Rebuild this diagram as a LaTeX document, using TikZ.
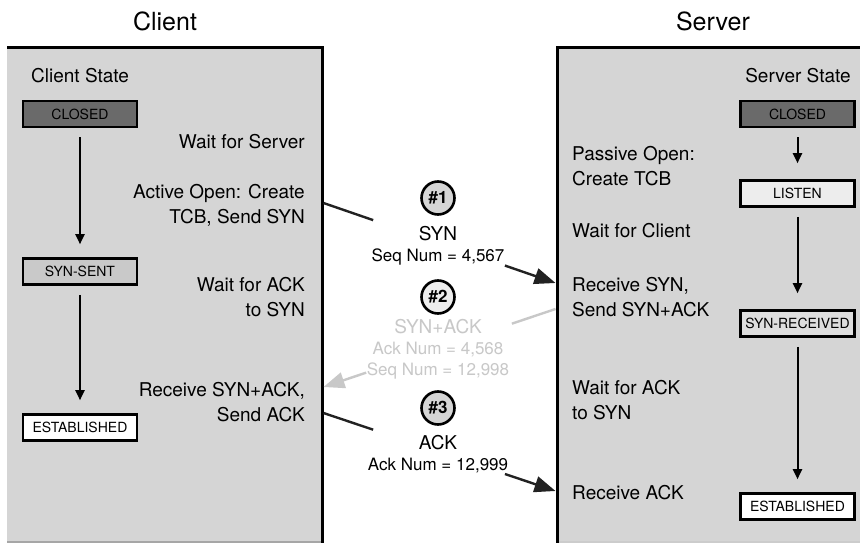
\documentclass[tikz,border=0pt]{standalone}
\usepackage{fontspec}
\setmainfont{TeX Gyre Heros}
\usetikzlibrary{arrows.meta,calc}
\definecolor{panel}{HTML}{D5D5D5}
\definecolor{darkfill}{HTML}{6A6A6A}
\definecolor{midfill}{HTML}{C9C9C9}
\definecolor{lightfill}{HTML}{EDEDED}
\definecolor{recfill}{HTML}{DEDEDE}
\definecolor{faint}{HTML}{C8C8C8}
\definecolor{ink}{HTML}{222222}
\begin{document}
\begin{tikzpicture}[x=1pt,y=-1pt,
  title/.style={font=\fontsize{25}{28}\selectfont},
  txt/.style={font=\fontsize{19}{25}\selectfont, inner sep=0pt},
  txtR/.style={txt, anchor=east, align=right},
  txtL/.style={txt, anchor=west, align=left},
  statebox/.style={draw=black, line width=2.6pt, minimum width=114pt, minimum height=26pt,
    inner sep=0pt, font=\fontsize{14}{14}\selectfont},
  statearrow/.style={draw=black, line width=2pt, -{Triangle[length=10pt,width=9pt]},
    shorten <=9pt, shorten >=13pt},
  stepcircle/.style={circle, draw=black, line width=2.6pt, minimum size=33pt, inner sep=0pt,
    font=\bfseries\fontsize{17}{17}\selectfont},
  msg/.style={align=center, inner sep=0pt, font=\fontsize{17}{21}\selectfont},
  msgline/.style={line width=2.4pt, ink},
  msgarrow/.style={line width=2.4pt, ink, -{Triangle[length=21pt,width=16pt]}}
]
\useasboundingbox (0,0) rectangle (860,543);
\fill[white] (0,0) rectangle (860,543);

% panels
\fill[panel] (7,47) rectangle (322,543);
\fill[panel] (557,47) rectangle (860,543);
\draw[gray!70, line width=2pt] (7,542) -- (322,542);
\draw[gray!40, line width=2pt] (557,542) -- (860,542);
\draw[line width=3pt] (7,48) -- (322,48) -- (322,543);
\draw[line width=3pt] (860,48) -- (557,48) -- (557,543);

% titles
\node[title] (tclient) at (165,21) {Client};
\node[title] (tserver) at (713,21) {Server};

% client states
\node[txt, anchor=west] (cstate) at (31,76) {Client State};
\node[statebox, fill=darkfill] (cclosed) at (80,114) {CLOSED};
\node[statebox, fill=midfill] (csent) at (80,271.5) {SYN-SENT};
\node[statebox, fill=white] (cest) at (80,427.5) {ESTABLISHED};
\draw[statearrow] (cclosed) -- (csent);
\draw[statearrow] (csent) -- (cest);

% client texts
\node[txtR] (cw1) at (305,142) {Wait for Server};
\node[txtR] (cw2) at (305,205.5) {Active Open: Create\\TCB, Send SYN};
\node[txtR] (cw3) at (305,297.5) {Wait for ACK\\to SYN};
\node[txtR] (cw4) at (305,402) {Receive SYN+ACK,\\Send ACK};

% server states
\node[txt] (sstate) at (798,76) {Server State};
\node[statebox, fill=darkfill] (sclosed) at (797.5,114) {CLOSED};
\node[statebox, fill=lightfill] (slisten) at (797.5,193.5) {LISTEN};
\node[statebox, fill=recfill] (srec) at (797.5,323.5) {SYN-RECEIVED};
\node[statebox, fill=white] (sest) at (797.5,506.5) {ESTABLISHED};
\draw[statearrow, shorten >=16pt] (sclosed) -- (slisten);
\draw[statearrow, shorten >=16pt] (slisten) -- (srec);
\draw[statearrow] (srec) -- (sest);

% server texts
\node[txtL] (sw1) at (572,166.5) {Passive Open:\\Create TCB};
\node[txtL] (sw2) at (572,231) {Wait for Client};
\node[txtL] (sw3) at (572,297) {Receive SYN,\\Send SYN+ACK};
\node[txtL] (sw4) at (572,400.5) {Wait for ACK\\to SYN};
\node[txtL] (sw5) at (572,493) {Receive ACK};

% message 1
\node[stepcircle, fill=panel] (n1) at (438,198) {\#1};
\node[msg] (m1) at (438,245.5) {{\fontsize{19}{21}\selectfont SYN}\\Seq Num = 4,567};
\coordinate (c1) at (323.5,203);
\coordinate (s1) at (555.5,283);
\coordinate (c1g) at ($(c1)!0.214!(s1)$);
\coordinate (s1g) at ($(c1)!0.782!(s1)$);
\draw[msgline] (c1) -- (c1g);
\draw[msgarrow] (s1g) -- (s1);

% message 2
\node[stepcircle, fill=lightfill] (n2) at (438,297) {\#2};
\node[msg, text=faint] (m2) at (438,349) {{\fontsize{19}{21}\selectfont SYN+ACK}\\Ack Num = 4,568\\Seq Num = 12,998};
\coordinate (s2) at (555.5,309);
\coordinate (c2) at (323.5,387);
\coordinate (s2g) at ($(s2)!0.188!(c2)$);
\coordinate (c2g) at ($(s2)!0.816!(c2)$);
\draw[line width=2.4pt, faint] (s2) -- (s2g);
\draw[line width=2.4pt, faint, -{Triangle[length=21pt,width=16pt]}] (c2g) -- (c2);

% message 3
\node[stepcircle, fill=panel] (n3) at (438,408) {\#3};
\node[msg] (m3) at (438,454) {{\fontsize{19}{21}\selectfont ACK}\\Ack Num = 12,999};
\coordinate (c3) at (323.5,413);
\coordinate (s3) at (555.5,491);
\coordinate (c3g) at ($(c3)!0.214!(s3)$);
\coordinate (s3g) at ($(c3)!0.782!(s3)$);
\draw[msgline] (c3) -- (c3g);
\draw[msgarrow] (s3g) -- (s3);
\end{tikzpicture}
\end{document}
